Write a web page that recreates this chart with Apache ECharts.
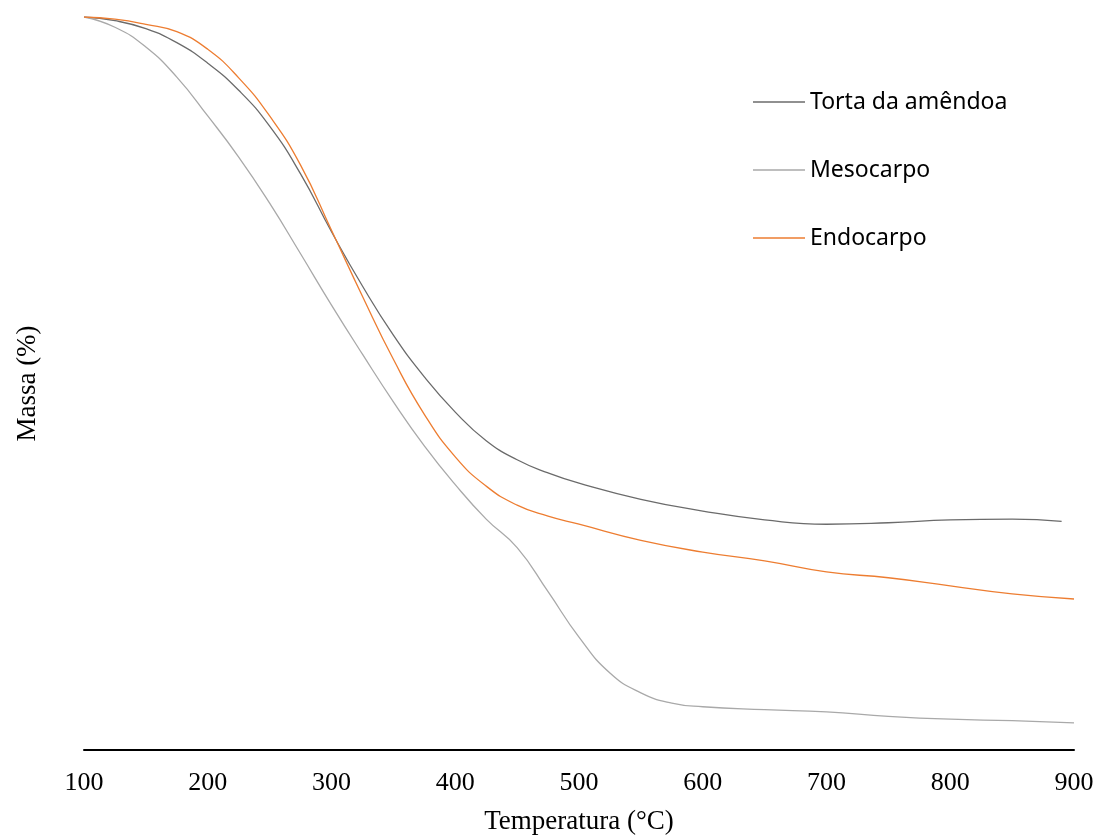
<!DOCTYPE html>
<html>
<head>
<meta charset="utf-8">
<script src="https://cdn.jsdelivr.net/npm/echarts@6/dist/echarts.min.js"></script>
<style>
  html, body { margin: 0; padding: 0; background: #fff; }
  #chart { width: 1097px; height: 836px; }
</style>
</head>
<body>
<div id="chart"></div>
<script>
// temperatura (°C) e massa (%)
const tortaTemp = [100,125,150,175,200,225,250,275,300,325,350,375,400,425,450,475,500,550,600,650,700,750,800,850,890];
const tortaMassa = [100,99.5,98.4,96.5,93.7,90.0,85.1,78.6,70.7,63.3,56.6,50.9,46.1,42.2,39.6,37.8,36.4,34.2,32.6,31.4,30.8,31.0,31.4,31.5,31.2];

const mesoTemp = [100,125,150,175,200,225,250,275,300,325,350,375,400,425,450,475,500,525,550,575,600,650,700,750,800,850,900];
const mesoMassa = [100,98.6,95.9,91.8,86.5,80.9,74.6,67.7,60.7,54.0,47.5,41.5,36.2,31.5,27.6,21.6,15.4,10.5,7.8,6.4,5.9,5.5,5.2,4.6,4.2,4.0,3.7];

const endoTemp = [100,125,150,175,200,225,250,275,300,325,350,375,400,425,450,475,500,550,600,650,700,750,800,850,900];
const endoMassa = [100,99.7,99.0,98.0,95.6,91.7,86.5,79.8,70.9,61.9,53.3,45.8,40.0,36.0,33.4,31.9,30.8,28.6,27.0,25.8,24.3,23.5,22.4,21.3,20.6];

const xTicks = [100,200,300,400,500,600,700,800,900];

function pares(t, m) {
  return t.map((v, i) => [v, m[i]]);
}

const chart = echarts.init(document.getElementById('chart'));

const serif = 'Liberation Serif';

function linha(nome, t, m, cor) {
  return {
    name: nome,
    type: 'line',
    data: pares(t, m),
    smooth: 0.5,
    showSymbol: false,
    color: cor,
    lineStyle: { width: 1.3 }
  };
}

chart.setOption({
  animation: false,
  grid: { left: 84, right: 23, top: 17, bottom: 86, outerBoundsMode: 'none' },
  legend: {
    orient: 'vertical',
    left: 753,
    top: 90,
    padding: 0,
    itemWidth: 52,
    itemHeight: 1.5,
    itemGap: 44,
    icon: 'rect',
    textStyle: { fontFamily: 'Noto Sans', fontSize: 23, color: '#000', lineHeight: 24 },
    data: ['Torta da amêndoa', 'Mesocarpo', 'Endocarpo']
  },
  xAxis: {
    type: 'value',
    min: 100,
    max: 900,
    interval: 100,
    name: 'Temperatura (°C)',
    nameLocation: 'middle',
    nameGap: 58,
    nameTextStyle: { fontFamily: serif, fontSize: 27, color: '#000' },
    axisLine: { lineStyle: { color: '#000', width: 2 } },
    axisTick: { show: false },
    splitLine: { show: false },
    axisLabel: {
      fontFamily: serif, fontSize: 26, color: '#000', margin: 20,
      customValues: xTicks
    }
  },
  yAxis: {
    type: 'value',
    min: 0,
    max: 100,
    name: 'Massa (%)',
    nameLocation: 'middle',
    nameRotate: 90,
    nameGap: 43,
    nameTextStyle: { fontFamily: serif, fontSize: 27, color: '#000' },
    axisLine: { show: false },
    axisTick: { show: false },
    axisLabel: { show: false },
    splitLine: { show: false }
  },
  series: [
    linha('Torta da amêndoa', tortaTemp, tortaMassa, '#6b6b6b'),
    linha('Mesocarpo', mesoTemp, mesoMassa, '#a9a9a9'),
    linha('Endocarpo', endoTemp, endoMassa, '#ed7d31')
  ]
});
</script>
</body>
</html>
